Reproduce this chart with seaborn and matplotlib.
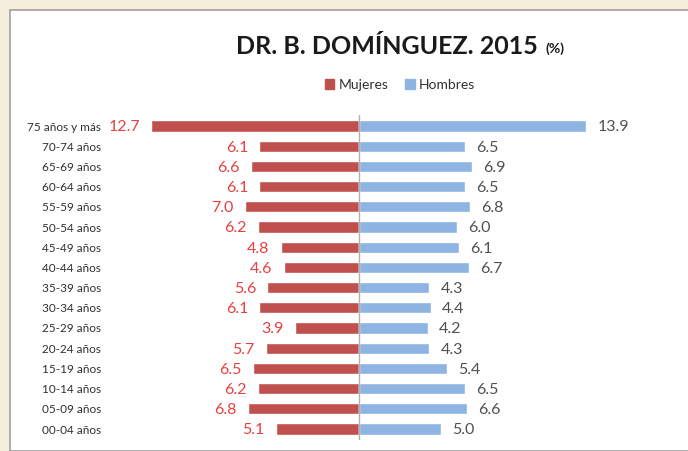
import matplotlib
matplotlib.use("Agg")
import matplotlib.pyplot as plt
import matplotlib.patches as mpatches
import seaborn as sns
import pandas as pd

grupos = ['75 años y más', '70-74 años', '65-69 años', '60-64 años', '55-59 años',
          '50-54 años', '45-49 años', '40-44 años', '35-39 años', '30-34 años',
          '25-29 años', '20-24 años', '15-19 años', '10-14 años', '05-09 años',
          '00-04 años']
mujeres = [12.7, 6.1, 6.6, 6.1, 7.0, 6.2, 4.8, 4.6, 5.6, 6.1, 3.9, 5.7, 6.5, 6.2, 6.8, 5.1]
hombres = [13.9, 6.5, 6.9, 6.5, 6.8, 6.0, 6.1, 6.7, 4.3, 4.4, 4.2, 4.3, 5.4, 6.5, 6.6, 5.0]

ROJO = '#c0504d'
AZUL = '#8db4e2'

sns.set_style('white')
plt.rcParams['font.family'] = ['Lato', 'DejaVu Sans']

df = pd.DataFrame({'grupo': grupos, 'mujeres': mujeres, 'hombres': hombres})
df['mujeres_neg'] = -df['mujeres']

W, H = 688, 451
fig = plt.figure(figsize=(W / 100, H / 100), dpi=100)
fig.patch.set_facecolor('#f6eedc')
fig.patches.append(mpatches.Rectangle((10 / W, 0), 1, 1 - 10 / H, transform=fig.transFigure,
                                      facecolor='white', edgecolor='#a0a0a0', lw=1.2, zorder=-10))

escala = 16.35  # px por unidad
centro = 359
left_px, top_px, bot_px = 108, 115, 440
ax = fig.add_axes([left_px / W, 1 - bot_px / H, 1 - left_px / W, (bot_px - top_px) / H])
ax.patch.set_alpha(0)

sns.barplot(data=df, x='mujeres_neg', y='grupo', color=ROJO, width=0.55, ax=ax, saturation=1)
sns.barplot(data=df, x='hombres', y='grupo', color=AZUL, width=0.55, ax=ax, saturation=1)

ax.set_xlim((left_px - centro) / escala, (W - centro) / escala)
y0 = (top_px - 126) / 20.2
y1 = (bot_px - 126) / 20.2
ax.set_ylim(y1, y0)
ax.axvline(0, color='#b0b0b0', lw=1)

for i, (m, h) in enumerate(zip(mujeres, hombres)):
    ax.annotate(f'{m:.1f}', (-m, i), xytext=(-8, -1), textcoords='offset points',
                ha='right', va='center', color='#e8413f', fontsize=11.5)
    ax.annotate(f'{h:.1f}', (h, i), xytext=(8, -1), textcoords='offset points',
                ha='left', va='center', color='#505050', fontsize=11.5)

ax.set_xlabel('')
ax.set_ylabel('')
ax.set_xticks([])
ax.tick_params(axis='y', length=0, pad=5, labelsize=8.5, labelcolor='#303030')
sns.despine(ax=ax, left=True, bottom=True)

fig.text(236 / W, 1 - 47 / H, 'DR. B. DOMÍNGUEZ. 2015', fontsize=18, fontweight='bold',
         ha='left', va='center', color='#1a1a1a')
fig.text(545 / W, 1 - 49 / H, '(%)', fontsize=10, fontweight='bold',
         ha='left', va='center', color='#1a1a1a')

handles = [mpatches.Patch(color=ROJO, label='Mujeres'), mpatches.Patch(color=AZUL, label='Hombres')]
fig.legend(handles=handles, loc='center', bbox_to_anchor=(400 / W, 1 - 85 / H), ncol=2,
           frameon=False, fontsize=10, handlelength=0.7, handleheight=0.7,
           handletextpad=0.3, columnspacing=1.2, labelcolor='#303030')

fig.savefig('out.png', dpi=100, facecolor=fig.get_facecolor())
